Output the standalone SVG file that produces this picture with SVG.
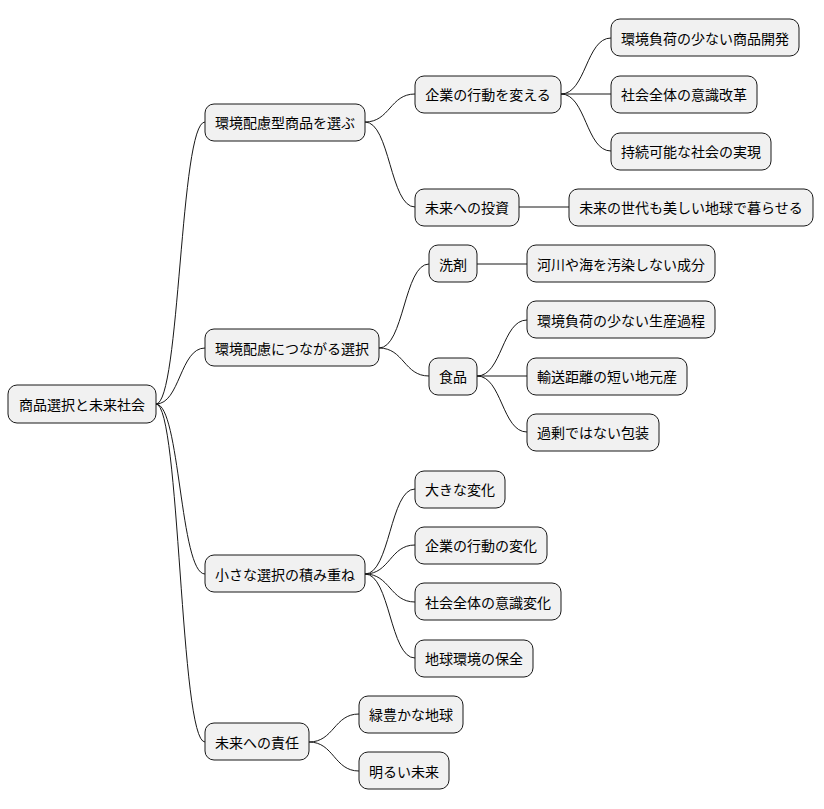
<svg xmlns="http://www.w3.org/2000/svg" width="824" height="809" viewBox="0 0 824 809">
<style>
.n rect{fill:#F1F1F1;stroke:#181818;stroke-width:1}
.n text{font-family:"Noto Sans CJK JP","Noto Sans CJK SC",sans-serif;font-size:14px;fill:#000;text-anchor:middle;dominant-baseline:central}
#c path{fill:none;stroke:#181818;stroke-width:1}
</style>
<rect width="824" height="809" fill="#fff"/>
<g id="c">
<path d="M156,404 C180,404 180,122 205,122"/>
<path d="M156,404 C180,404 180,348 205,348"/>
<path d="M156,404 C180,404 180,574 205,574"/>
<path d="M156,404 C180,404 180,742 205,742"/>
<path d="M365,122 C390,122 390,94 415,94"/>
<path d="M365,122 C390,122 390,207 415,207"/>
<path d="M561,94 C586,94 586,38 611,38"/>
<path d="M561,94 L611,94"/>
<path d="M561,94 C586,94 586,151 611,151"/>
<path d="M519,207 L569,207"/>
<path d="M379,348 C404,348 404,264 429,264"/>
<path d="M379,348 C404,348 404,376 429,376"/>
<path d="M477,264 L527,264"/>
<path d="M477,376 C502,376 502,320 527,320"/>
<path d="M477,376 L527,376"/>
<path d="M477,376 C502,376 502,432 527,432"/>
<path d="M365,574 C390,574 390,489 415,489"/>
<path d="M365,574 C390,574 390,545 415,545"/>
<path d="M365,574 C390,574 390,602 415,602"/>
<path d="M365,574 C390,574 390,658 415,658"/>
<path d="M309,742 C334,742 334,714 359,714"/>
<path d="M309,742 C334,742 334,771 359,771"/>
</g>
<g id="root" class="n"><rect x="8" y="385" width="148" height="38" rx="9"/><text x="82" y="404">商品選択と未来社会</text></g>
<g id="a" class="n"><rect x="205" y="104" width="160" height="37" rx="9"/><text x="285" y="122">環境配慮型商品を選ぶ</text></g>
<g id="b" class="n"><rect x="205" y="329" width="174" height="37" rx="9"/><text x="292" y="348">環境配慮につながる選択</text></g>
<g id="c3" class="n"><rect x="205" y="555" width="160" height="37" rx="9"/><text x="285" y="574">小さな選択の積み重ね</text></g>
<g id="d" class="n"><rect x="205" y="723" width="104" height="37" rx="9"/><text x="257" y="742">未来への責任</text></g>
<g id="a1" class="n"><rect x="415" y="76" width="146" height="37" rx="9"/><text x="488" y="94">企業の行動を変える</text></g>
<g id="a2" class="n"><rect x="415" y="189" width="104" height="37" rx="9"/><text x="467" y="207">未来への投資</text></g>
<g id="a11" class="n"><rect x="611" y="19" width="188" height="37" rx="9"/><text x="705" y="38">環境負荷の少ない商品開発</text></g>
<g id="a12" class="n"><rect x="611" y="76" width="146" height="37" rx="9"/><text x="684" y="94">社会全体の意識改革</text></g>
<g id="a13" class="n"><rect x="611" y="133" width="160" height="37" rx="9"/><text x="691" y="151">持続可能な社会の実現</text></g>
<g id="a21" class="n"><rect x="569" y="189" width="244" height="37" rx="9"/><text x="691" y="207">未来の世代も美しい地球で暮らせる</text></g>
<g id="b1" class="n"><rect x="429" y="245" width="48" height="37" rx="9"/><text x="453" y="264">洗剤</text></g>
<g id="b2" class="n"><rect x="429" y="358" width="48" height="37" rx="9"/><text x="453" y="376">食品</text></g>
<g id="b11" class="n"><rect x="527" y="245" width="188" height="37" rx="9"/><text x="621" y="264">河川や海を汚染しない成分</text></g>
<g id="b21" class="n"><rect x="527" y="301" width="188" height="37" rx="9"/><text x="621" y="320">環境負荷の少ない生産過程</text></g>
<g id="b22" class="n"><rect x="527" y="358" width="160" height="37" rx="9"/><text x="607" y="376">輸送距離の短い地元産</text></g>
<g id="b23" class="n"><rect x="527" y="414" width="132" height="37" rx="9"/><text x="593" y="432">過剰ではない包装</text></g>
<g id="c1" class="n"><rect x="415" y="471" width="90" height="37" rx="9"/><text x="460" y="489">大きな変化</text></g>
<g id="c2" class="n"><rect x="415" y="527" width="132" height="37" rx="9"/><text x="481" y="545">企業の行動の変化</text></g>
<g id="c33" class="n"><rect x="415" y="583" width="146" height="37" rx="9"/><text x="488" y="602">社会全体の意識変化</text></g>
<g id="c4" class="n"><rect x="415" y="640" width="118" height="37" rx="9"/><text x="474" y="658">地球環境の保全</text></g>
<g id="d1" class="n"><rect x="359" y="696" width="104" height="37" rx="9"/><text x="411" y="714">緑豊かな地球</text></g>
<g id="d2" class="n"><rect x="359" y="752" width="90" height="37" rx="9"/><text x="404" y="771">明るい未来</text></g>
</svg>
